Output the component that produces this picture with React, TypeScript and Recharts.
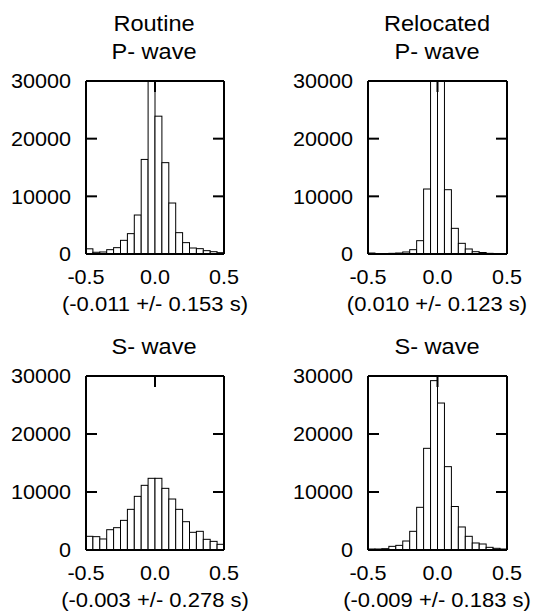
import React from 'react';
import { BarChart, Bar, XAxis, YAxis } from 'recharts';

// ---- data ----
const binCenters = [
  -0.475, -0.425, -0.375, -0.325, -0.275, -0.225, -0.175, -0.125, -0.075, -0.025,
  0.025, 0.075, 0.125, 0.175, 0.225, 0.275, 0.325, 0.375, 0.425, 0.475,
];
const routinePCounts = [900, 300, 350, 750, 1100, 2370, 3530, 6760, 16400, 34000, 23900, 15840, 8840, 3700, 1970, 1040, 925, 580, 400, 230];
const relocatedPCounts = [170, 60, 60, 115, 170, 350, 750, 2310, 11270, 40000, 40000, 11150, 4450, 1850, 870, 400, 260, 115, 60, 60];
const routineSCounts = [2360, 2300, 1900, 3500, 3850, 5110, 7010, 9250, 11150, 12360, 12360, 10630, 8790, 7010, 4880, 3050, 3220, 1840, 1490, 980];
const relocatedSCounts = [170, 170, 230, 630, 800, 1550, 3220, 7360, 17530, 29200, 25340, 14370, 7500, 3970, 2360, 1210, 1035, 460, 290, 170];

const yTicks = [0, 10000, 20000, 30000];
const xTicks = [-0.5, 0, 0.5];
const yDomain = [0, 30000];
const xDomain = [-0.5, 0.5];
const columnTitles = ['Routine', 'Relocated'];
const phaseTitles = ['P- wave', 'S- wave'];
const statLabels = ['(-0.011 +/- 0.153 s)', '(0.010 +/- 0.123 s)', '(-0.003 +/- 0.278 s)', '(-0.009 +/- 0.183 s)'];

// ---- styles ----
const FONT = '"Liberation Sans", Arial, Helvetica, sans-serif';
const TICK_LEN = 11;
const SX = 1.08;
const AX = 1; // thickness reserved by each framing axis

const buildRows = (counts: number[]) => binCenters.map((c, i) => ({ center: c, count: counts[i] }));

type PanelProps = {
  counts: number[];
  left: number;
  top: number;
  width: number;
  height: number;
  plotLeft: number;
  plotTop: number;
  plotW: number;
  plotH: number;
};

function Panel({ counts, left, top, width, height, plotLeft, plotTop, plotW, plotH }: PanelProps) {
  const data = buildRows(counts);
  const margin = {
    left: plotLeft - AX,
    top: plotTop - AX,
    right: width - plotLeft - plotW - AX,
    bottom: height - plotTop - plotH - AX,
  };
  const bw = plotW / binCenters.length;
  const yMax = yDomain[1];

  const barShape = (props: any) => {
    const { x, y, height: h } = props;
    if (x == null || y == null || h == null) return <g />;
    return <rect x={x} y={y} width={bw} height={h} fill="#ffffff" stroke="#000000" strokeWidth={1} />;
  };

  const leftTick = (props: any) => {
    const { x, y, payload } = props;
    const v = payload.value;
    return (
      <g>
        {v > 0 && v < yMax ? <line x1={x} x2={x + TICK_LEN} y1={y} y2={y} stroke="#000" strokeWidth={2} /> : null}
        <text transform={`translate(${x - 15},${y + 7.2}) scale(${SX},1)`} textAnchor="end" fontFamily={FONT} fontSize={20} fill="#000">
          {String(v)}
        </text>
      </g>
    );
  };
  const rightTick = (props: any) => {
    const { x, y, payload } = props;
    const v = payload.value;
    if (!(v > 0 && v < yMax)) return <g />;
    return <line x1={x} x2={x - TICK_LEN} y1={y} y2={y} stroke="#000" strokeWidth={2} />;
  };
  const bottomTick = (props: any) => {
    const { x, y, payload } = props;
    const v = Number(payload.value);
    return (
      <text transform={`translate(${x},${y + 29.5}) scale(${SX},1)`} textAnchor="middle" fontFamily={FONT} fontSize={20} fill="#000">
        {v.toFixed(1)}
      </text>
    );
  };
  const topTick = (props: any) => {
    const { x, y, payload } = props;
    const v = Number(payload.value);
    if (v <= xDomain[0] || v >= xDomain[1]) return <g />;
    return <line x1={x} x2={x} y1={y} y2={y + TICK_LEN} stroke="#000" strokeWidth={2} />;
  };

  return (
    <div style={{ position: 'absolute', left, top, width, height }}>
      <BarChart width={width} height={height} data={data} margin={margin} barCategoryGap={0} barGap={0}>
        <XAxis xAxisId="cat" dataKey="center" type="category" hide height={0} />
        <YAxis yAxisId="left" type="number" domain={yDomain} allowDataOverflow hide width={0} />
        <Bar
          xAxisId="cat"
          yAxisId="left"
          dataKey="count"
          fill="#ffffff"
          stroke="#000000"
          strokeWidth={1}
          barSize={bw}
          shape={barShape}
          isAnimationActive={false}
        />
        <XAxis
          xAxisId="num"
          dataKey="center"
          type="number"
          orientation="bottom"
          domain={xDomain}
          ticks={xTicks}
          allowDataOverflow
          interval={0}
          height={AX}
          tickSize={0}
          tickMargin={0}
          tickLine={false}
          axisLine={{ stroke: '#000', strokeWidth: 2 }}
          tick={bottomTick}
        />
        <XAxis
          xAxisId="top"
          dataKey="center"
          type="number"
          orientation="top"
          domain={xDomain}
          ticks={xTicks}
          allowDataOverflow
          interval={0}
          height={AX}
          tickSize={0}
          tickMargin={0}
          tickLine={false}
          axisLine={{ stroke: '#000', strokeWidth: 2 }}
          tick={topTick}
        />
        <YAxis
          yAxisId="axL"
          type="number"
          orientation="left"
          domain={yDomain}
          ticks={yTicks}
          allowDataOverflow
          interval={0}
          width={AX}
          tickSize={0}
          tickMargin={0}
          tickLine={false}
          axisLine={{ stroke: '#000', strokeWidth: 2 }}
          tick={leftTick}
        />
        <YAxis
          yAxisId="axR"
          type="number"
          orientation="right"
          domain={yDomain}
          ticks={yTicks}
          allowDataOverflow
          interval={0}
          width={AX}
          tickSize={0}
          tickMargin={0}
          tickLine={false}
          axisLine={{ stroke: '#000', strokeWidth: 2 }}
          tick={rightTick}
        />
      </BarChart>
    </div>
  );
}

function Caption({ text, cx, baseline, size, scale }: { text: string; cx: number; baseline: number; size: number; scale: number }) {
  const w = 260;
  return (
    <div
      style={{
        position: 'absolute',
        left: cx - w / 2,
        top: baseline - 0.8465 * size,
        width: w,
        textAlign: 'center',
        fontFamily: FONT,
        fontSize: size,
        lineHeight: `${size}px`,
        color: '#000',
        whiteSpace: 'nowrap',
        transform: `scaleX(${scale})`,
        transformOrigin: 'center',
      }}
    >
      {text}
    </div>
  );
}

export default function App() {
  const rowTop = [0, 295];
  const rowH = [295, 318];
  const plotTopLocal = 81;
  const plotH = [173, 174];
  const colLeft = [0, 266];
  const colW = [266, 267];
  const plotLeftLocal = [86, 102];
  const plotW = [138, 139];
  const series = [routinePCounts, relocatedPCounts, routineSCounts, relocatedSCounts];

  const panels: any[] = [];
  const captions: any[] = [];
  for (let r = 0; r < 2; r++) {
    for (let c = 0; c < 2; c++) {
      const idx = r * 2 + c;
      panels.push(
        <Panel
          key={`p${idx}`}
          counts={series[idx]}
          left={colLeft[c]}
          top={rowTop[r]}
          width={colW[c]}
          height={rowH[r]}
          plotLeft={plotLeftLocal[c]}
          plotTop={plotTopLocal}
          plotW={plotW[c]}
          plotH={plotH[r]}
        />
      );
      const cx = colLeft[c] + plotLeftLocal[c] + plotW[c] / 2 - 1;
      const plotTop = rowTop[r] + plotTopLocal;
      const plotBottom = plotTop + plotH[r];
      if (r === 0) {
        captions.push(<Caption key={`t${idx}`} text={columnTitles[c]} cx={cx} baseline={plotTop - 49.3} size={22} scale={1.07} />);
      }
      captions.push(<Caption key={`w${idx}`} text={phaseTitles[r]} cx={cx} baseline={plotTop - 21} size={22} scale={1.07} />);
      captions.push(<Caption key={`s${idx}`} text={statLabels[idx]} cx={cx + 0.5} baseline={plotBottom + 57} size={20} scale={1.1} />);
    }
  }

  return (
    <div style={{ position: 'absolute', left: 0, top: 0, width: 533, height: 613, background: '#fff', overflow: 'hidden' }}>
      {panels}
      {captions}
    </div>
  );
}
